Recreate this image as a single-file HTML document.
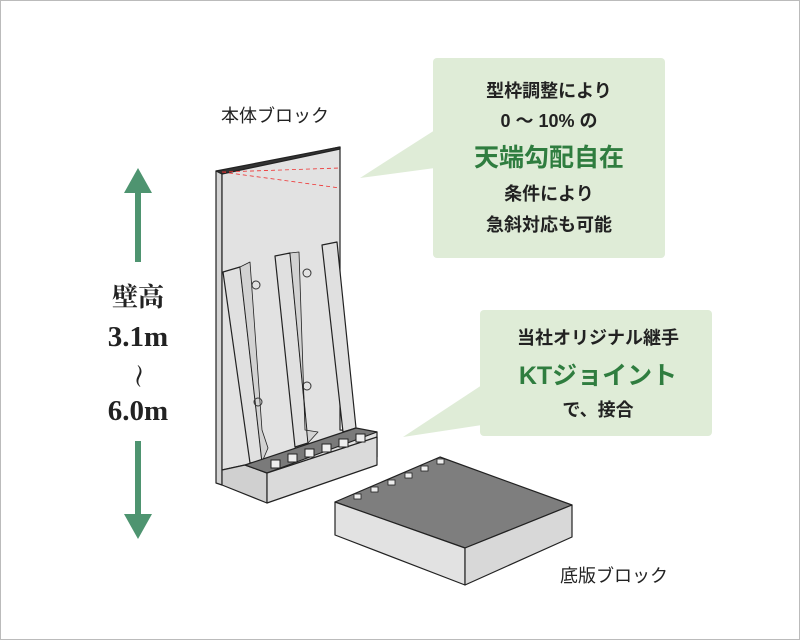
<!DOCTYPE html>
<html><head><meta charset="utf-8"><style>
html,body{margin:0;padding:0;background:#fff}
svg{display:block}
.s{font-family:"Liberation Sans","Noto Sans CJK JP",sans-serif}
.r{font-family:"Liberation Serif","Noto Serif CJK SC",serif;font-weight:bold;fill:#222}
</style></head><body>
<svg width="800" height="640" viewBox="0 0 800 640" xmlns="http://www.w3.org/2000/svg">
<rect x="0.5" y="0.5" width="799" height="639" fill="#fff" stroke="#bbb"/>
<g fill="#4e9470">
<polygon points="138,168 124,193 135,193 135,262 141,262 141,193 152,193"/>
<polygon points="138,539 124,514 135,514 135,441 141,441 141,514 152,514"/>
</g>
<text x="138" y="306" class="r" font-size="26" text-anchor="middle">壁高</text>
<text x="138" y="346" class="r" font-size="29" text-anchor="middle">3.1m</text>
<text x="138" y="384" class="r" font-size="24" text-anchor="middle" transform="rotate(90 138 376)">～</text>
<text x="138" y="420" class="r" font-size="29" text-anchor="middle">6.0m</text>
<text x="275" y="122" class="s" font-size="18" text-anchor="middle" fill="#222">本体ブロック</text>
<text x="614" y="582" class="s" font-size="18" text-anchor="middle" fill="#222">底版ブロック</text>
<g fill="#dfecd7">
<rect x="433" y="58" width="232" height="200" rx="4"/>
<polygon points="435,130 360,178 435,168"/>
<rect x="480" y="310" width="232" height="126" rx="4"/>
<polygon points="482,385 403,437 482,425"/>
</g>
<g class="s" text-anchor="middle" font-weight="bold" fill="#222">
<text x="549" y="97" font-size="18">型枠調整により</text>
<text x="549" y="127" font-size="18">0 ～ 10% の</text>
<text x="549" y="166" font-size="25" fill="#2f7d3f">天端勾配自在</text>
<text x="549" y="200" font-size="18">条件により</text>
<text x="549" y="231" font-size="18">急斜対応も可能</text>
<text x="598" y="344" font-size="18">当社オリジナル継手</text>
<text x="598" y="384" font-size="25" fill="#2f7d3f">KTジョイント</text>
<text x="598" y="416" font-size="18">で、接合</text>
</g>
<g stroke="#222" stroke-width="1.2" stroke-linejoin="round">
<polygon points="216,171 222,172 222,485 216,483" fill="#d4d4d4"/>
<polygon points="222,172 340,147 340,430 377,432 377,457 267,490 245,465 222,470" fill="#e2e2e2"/>
<polygon points="216,171 340,147 340,149 222,174" fill="#333"/>
<polygon points="223,272 240,267 262,462 250,463" fill="#e0e0e0"/>
<polygon points="240,267 262,462 268,448 262,430 250,262" fill="#d2d2d2" stroke-width="0.8"/>
<polygon points="275,256 290,253 308,443 295,447" fill="#e0e0e0"/>
<polygon points="290,253 308,443 318,432 305,430 299,252" fill="#d2d2d2" stroke-width="0.8"/>
<polygon points="322,245 337,242 356,428 343,432" fill="#e0e0e0"/>
<polygon points="222,470 245,465 267,473 267,503 222,485" fill="#d0d0d0"/>
<polygon points="245,465 356,428 377,432 267,473" fill="#7a7a7a"/>
<polygon points="267,473 377,437 377,465 267,503" fill="#dadada"/>
</g>
<g fill="none" stroke="#333" stroke-width="1">
<circle cx="256" cy="285" r="4"/><circle cx="307" cy="273" r="4"/>
<circle cx="258" cy="402" r="4"/><circle cx="307" cy="386" r="4"/>
</g>
<g fill="#eee" stroke="#222" stroke-width="1">
<rect x="271" y="460" width="9" height="8"/><rect x="288" y="454" width="9" height="8"/>
<rect x="305" y="449" width="9" height="8"/><rect x="322" y="444" width="9" height="8"/>
<rect x="339" y="439" width="9" height="8"/><rect x="356" y="434" width="9" height="8"/>
</g>
<g stroke="#e33" stroke-width="0.8" stroke-dasharray="4,3" fill="none">
<line x1="222" y1="172" x2="340" y2="168"/>
<line x1="222" y1="172" x2="340" y2="188"/>
</g>
<g stroke="#222" stroke-width="1.2" stroke-linejoin="round">
<polygon points="335,502 440,457 572,505 465,548" fill="#7e7e7e"/>
<polygon points="335,502 465,548 465,585 335,535" fill="#e2e2e2"/>
<polygon points="465,548 572,505 572,537 465,585" fill="#d8d8d8"/>
</g>
<g fill="#eee" stroke="#222" stroke-width="0.8">
<rect x="354" y="494" width="7" height="5"/><rect x="371" y="487" width="7" height="5"/>
<rect x="388" y="480" width="7" height="5"/><rect x="405" y="473" width="7" height="5"/>
<rect x="421" y="466" width="7" height="5"/><rect x="437" y="459" width="7" height="5"/>
</g>
</svg>
</body></html>
